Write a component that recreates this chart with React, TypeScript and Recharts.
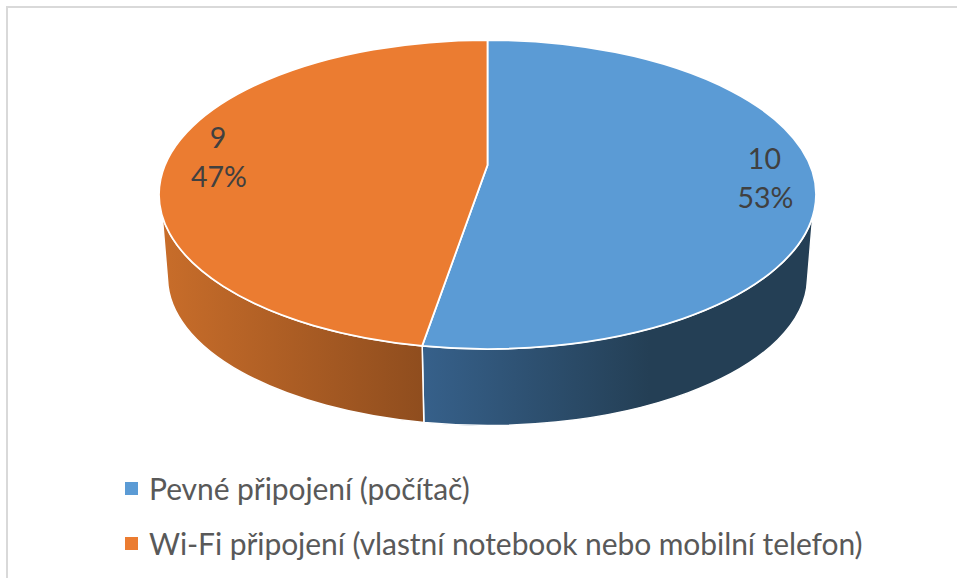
import React from 'react';
import { Cell, Legend, Pie, PieChart } from 'recharts';

const categories = ['Pevné připojení (počítač)', 'Wi-Fi připojení (vlastní notebook nebo mobilní telefon)'];
const counts = [10, 9];
const topColors = ['#5B9BD5', '#EB7C31'];
const wallFrom = ['#36608A', '#C86D2A'];
const wallTo = ['#243F55', '#8F4D1E'];

const tableData = categories.map((name, i) => ({ name, value: counts[i] }));

// top face ellipse and the smaller rim underneath it
const TOP = { x: 487.5, y: 194.5, rx: 328.5, ry: 154.5 };
const BOTTOM = { x: 487.5, y: 277.5, rx: 320, ry: 148 };
const PERSP = -0.19; // moves the pie centre up inside the ellipse
const rad = Math.PI / 180;

// clock angle on the flat pie -> unit ellipse coords
function project(clock: number, r = 1) {
  const u = Math.sin(clock * rad) * r;
  const v = -Math.cos(clock * rad) * r;
  const w = 1 + PERSP * v;
  return { u: (u * Math.sqrt(1 - PERSP * PERSP)) / w, v: (v + PERSP) / w };
}

function ellipseAngle(clock: number) {
  if (clock >= 360) return 360;
  const p = project(clock);
  const t = Math.atan2(p.u, -p.v) / rad;
  return t < 0 ? t + 360 : t;
}

function onEllipse(e: typeof TOP, t: number) {
  return { x: e.x + e.rx * Math.sin(t * rad), y: e.y - e.ry * Math.cos(t * rad) };
}

function arcTo(e: typeof TOP, from: number, to: number) {
  const p = onEllipse(e, to);
  const large = Math.abs(to - from) > 180 ? 1 : 0;
  return `A${e.rx} ${e.ry} 0 ${large} ${to > from ? 1 : 0} ${p.x} ${p.y}`;
}

function Slice3D(props: any) {
  const { startAngle, endAngle, fill, index } = props;
  const a = ellipseAngle(90 - Math.max(startAngle, endAngle));
  const b = ellipseAngle(90 - Math.min(startAngle, endAngle));
  const apex = { x: TOP.x + TOP.rx * project(0, 0).u, y: TOP.y + TOP.ry * project(0, 0).v };
  const s = onEllipse(TOP, a);
  const gid = `wall-${index}`;

  // wall only shows on the front, between the silhouette tangents
  const t1 = Math.max(a, 98);
  const t2 = Math.min(b, 262);
  const b1 = Math.max(a, 91);
  const b2 = Math.min(b, 269);
  const w0 = onEllipse(TOP, t1);
  const w1 = onEllipse(BOTTOM, b2);
  const wall = `M${w0.x} ${w0.y}${arcTo(TOP, t1, t2)}L${w1.x} ${w1.y}${arcTo(BOTTOM, b2, b1)}Z`;
  const face = `M${apex.x} ${apex.y}L${s.x} ${s.y}${arcTo(TOP, a, b)}Z`;
  const gx1 = onEllipse(TOP, index === 0 ? 191 : 262).x;
  const gx2 = index === 0 ? 650 : 424;

  return (
    <g>
      <defs>
        <linearGradient id={gid} gradientUnits="userSpaceOnUse" x1={gx1} y1="0" x2={gx2} y2="0">
          <stop offset="0%" stopColor={wallFrom[index]} />
          <stop offset="100%" stopColor={wallTo[index]} />
        </linearGradient>
      </defs>
      <path d={wall} fill={`url(#${gid})`} stroke="#fff" strokeWidth={1.5} strokeLinejoin="round" />
      <path d={face} fill={fill} stroke="#fff" strokeWidth={1.8} strokeLinejoin="round" />
    </g>
  );
}

function SliceLabel(props: any) {
  const { midAngle, value, percent } = props;
  const p = project(90 - midAngle, 0.85);
  const x = TOP.x + TOP.rx * p.u;
  const y = TOP.y + TOP.ry * p.v;
  return (
    <text x={x} textAnchor="middle" fontFamily="Lato" fontSize={28.5} fill="#404040">
      <tspan x={x} y={y - 7}>{value}</tspan>
      <tspan x={x + 1} y={y + 32}>{`${Math.round(percent * 100)}%`}</tspan>
    </text>
  );
}

function LegendList({ payload }: any) {
  return (
    <div>
      {(payload || []).map((item: any) => (
        <div key={item.value} style={{ display: 'flex', alignItems: 'center', height: 55 }}>
          <span style={{ width: 13, height: 13, marginRight: 11, background: item.color, flex: 'none' }} />
          <span style={{ position: 'relative', top: -1, fontFamily: 'Lato', fontSize: 30, letterSpacing: -0.07, color: '#595959', whiteSpace: 'nowrap' }}>{item.value}</span>
        </div>
      ))}
    </div>
  );
}

export default function App() {
  return (
    <div style={{ position: 'absolute', left: 0, top: 0, width: 957, height: 578, background: '#fff', overflow: 'hidden' }}>
      <div
        style={{
          position: 'absolute',
          left: 6,
          top: 6,
          width: 951,
          height: 572,
          borderLeft: '2px solid #d9d9d9',
          borderTop: '2px solid #d9d9d9',
        }}
      />
      <PieChart width={957} height={578} margin={{ top: 0, right: 0, bottom: 0, left: 0 }} style={{ position: 'absolute', left: 0, top: 0 }}>
        <Pie
          data={tableData}
          dataKey="value"
          nameKey="name"
          cx={487.5}
          cy={165}
          outerRadius={150}
          startAngle={90}
          endAngle={-270}
          shape={Slice3D}
          label={SliceLabel}
          labelLine={false}
          isAnimationActive={false}
        >
          {tableData.map((d, i) => (
            <Cell key={d.name} fill={topColors[i]} />
          ))}
        </Pie>
        <Legend
          content={LegendList}
          layout="vertical"
          wrapperStyle={{ position: 'absolute', left: 125, top: 461, width: 800 }}
        />
      </PieChart>
    </div>
  );
}
